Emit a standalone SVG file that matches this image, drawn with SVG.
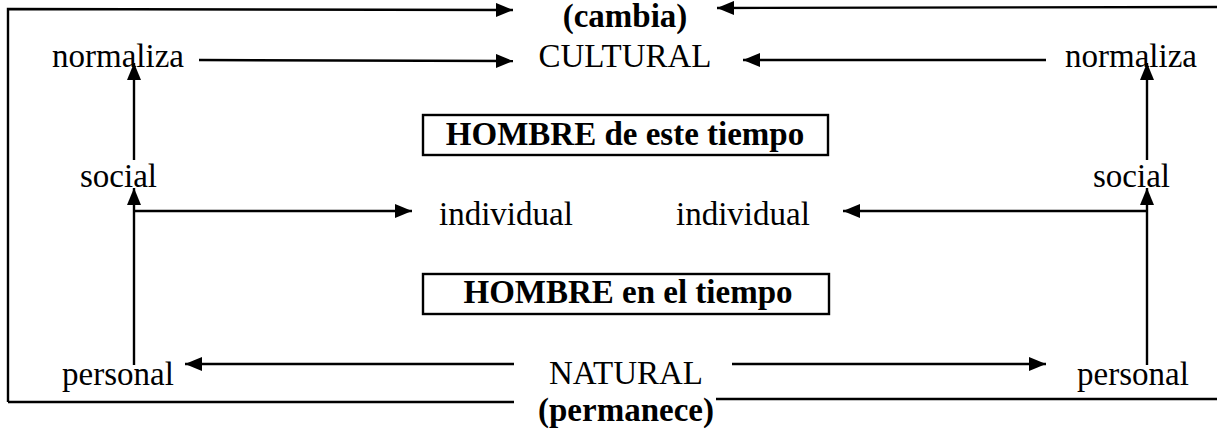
<svg xmlns="http://www.w3.org/2000/svg" width="1217" height="432" viewBox="0 0 1217 432">
<defs>
<marker id="ah" markerUnits="userSpaceOnUse" markerWidth="18" markerHeight="14" refX="17" refY="7" orient="auto">
<path d="M0,0 L17,7 L0,14 Z" fill="#000"/>
</marker>
<style>
text{font-family:"Liberation Serif","Times New Roman",serif;font-size:33px;fill:#000}
.b{font-weight:bold}
.ln{stroke:#000;stroke-width:2.4;fill:none}
.ar{stroke:#000;stroke-width:2.4;fill:none;marker-end:url(#ah)}
.box{stroke:#000;stroke-width:2.4;fill:#fff}
</style>
</defs>
<rect width="1217" height="432" fill="#fff"/>
<g id="connectors">
<path class="ar" d="M8,402 L8,9 L513,10"/>
<path class="ln" d="M8,402 L514,402"/>
<path class="ar" d="M1217,7 L717,8"/>
<path class="ln" d="M716,399 L1217,399"/>
<path class="ar" d="M199,60 L513,61"/>
<path class="ar" d="M1046,60 L743,60"/>
<path class="ar" d="M134,160 L134,63"/>
<path class="ar" d="M134,365 L134,188"/>
<path class="ar" d="M134,211 L412,211"/>
<path class="ar" d="M1147,160 L1147,63"/>
<path class="ar" d="M1147,365 L1147,188"/>
<path class="ar" d="M1147,211 L843,211"/>
<path class="ar" d="M514,364 L185,364"/>
<path class="ar" d="M732,364 L1046,364"/>
</g>
<g id="cambia"><text class="b" x="625" y="27" text-anchor="middle">(cambia)</text></g>
<g id="cultural"><text x="625" y="67" text-anchor="middle" font-size="34">CULTURAL</text></g>
<g id="normaliza-left"><text x="52" y="67">normaliza</text></g>
<g id="normaliza-right"><text x="1065" y="67">normaliza</text></g>
<g id="hombre-este"><rect class="box" x="423" y="115" width="405" height="40"/><text class="b" x="625" y="145" text-anchor="middle">HOMBRE de este tiempo</text></g>
<g id="social-left"><text x="80" y="187">social</text></g>
<g id="social-right"><text x="1093" y="187">social</text></g>
<g id="individual-left"><text x="439" y="225">individual</text></g>
<g id="individual-right"><text x="676" y="225">individual</text></g>
<g id="hombre-en"><rect class="box" x="423" y="274" width="406" height="40"/><text class="b" x="628" y="303" text-anchor="middle">HOMBRE en el tiempo</text></g>
<g id="personal-left"><text x="62" y="385">personal</text></g>
<g id="natural"><text x="626" y="384" text-anchor="middle">NATURAL</text></g>
<g id="personal-right"><text x="1077" y="385">personal</text></g>
<g id="permanece"><text class="b" x="626" y="421" text-anchor="middle">(permanece)</text></g>
</svg>
